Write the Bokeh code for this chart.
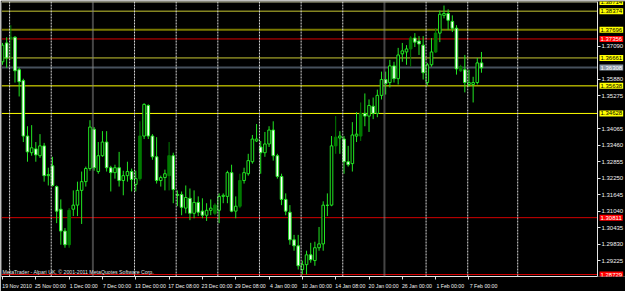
from bokeh.plotting import figure
from bokeh.models import (Range1d, FixedTicker, Span, Label, ColumnDataSource,
                          PrintfTickFormatter, BoxAnnotation)
from bokeh.embed import file_html
from bokeh.resources import INLINE

# ---- EURUSD-like H12 bars, 19 Nov 2010 .. 9 Feb 2011 ----
bar_open = [1.3652, 1.3721, 1.3735, 1.3742, 1.3623, 1.3583, 1.3380, 1.3319, 1.3333, 1.3308,
            1.3344, 1.3235, 1.3271, 1.3195, 1.3112, 1.3032, 1.2982, 1.3112, 1.3127, 1.3181,
            1.3213, 1.3261, 1.3405, 1.3250, 1.3308, 1.3358, 1.3264, 1.3246, 1.3264, 1.3217,
            1.3235, 1.3250, 1.3203, 1.3224, 1.3380, 1.3492, 1.3380, 1.3304, 1.3217, 1.3228,
            1.3235, 1.3308, 1.3166, 1.3166, 1.3116, 1.3152, 1.3097, 1.3137, 1.3105, 1.3090,
            1.3108, 1.3097, 1.3108, 1.3159, 1.3159, 1.3246, 1.3105, 1.3123, 1.3217, 1.3242,
            1.3286, 1.3362, 1.3340, 1.3319, 1.3351, 1.3402, 1.3308, 1.3232, 1.3148, 1.3101,
            1.3000, 1.2978, 1.2891, 1.2909, 1.2945, 1.2924, 1.2971, 1.2985, 1.3127, 1.3127,
            1.3344, 1.3373, 1.3369, 1.3286, 1.3279, 1.3380, 1.3380, 1.3463, 1.3453, 1.3489,
            1.3463, 1.3529, 1.3587, 1.3576, 1.3637, 1.3590, 1.3681, 1.3688, 1.3699, 1.3739,
            1.3728, 1.3713, 1.3576, 1.3641, 1.3688, 1.3757, 1.3822, 1.3829, 1.3800, 1.3775,
            1.3619, 1.3623, 1.3569, 1.3569, 1.3576, 1.3648]
bar_high = [1.3721, 1.3742, 1.3786, 1.3746, 1.3630, 1.3590, 1.3416, 1.3420, 1.3358, 1.3387,
            1.3355, 1.3264, 1.3304, 1.3199, 1.3148, 1.3043, 1.3116, 1.3181, 1.3213, 1.3250,
            1.3268, 1.3438, 1.3413, 1.3358, 1.3398, 1.3398, 1.3271, 1.3275, 1.3322, 1.3253,
            1.3286, 1.3261, 1.3253, 1.3434, 1.3500, 1.3496, 1.3387, 1.3376, 1.3235, 1.3257,
            1.3358, 1.3319, 1.3181, 1.3177, 1.3199, 1.3188, 1.3181, 1.3159, 1.3152, 1.3134,
            1.3148, 1.3134, 1.3170, 1.3170, 1.3253, 1.3275, 1.3159, 1.3242, 1.3264, 1.3315,
            1.3384, 1.3424, 1.3362, 1.3395, 1.3416, 1.3434, 1.3315, 1.3242, 1.3170, 1.3127,
            1.3018, 1.3018, 1.2924, 1.2960, 1.2989, 1.2993, 1.3047, 1.3141, 1.3170, 1.3380,
            1.3453, 1.3398, 1.3380, 1.3344, 1.3431, 1.3467, 1.3503, 1.3536, 1.3514, 1.3521,
            1.3550, 1.3616, 1.3616, 1.3659, 1.3652, 1.3703, 1.3721, 1.3713, 1.3746, 1.3757,
            1.3746, 1.3746, 1.3648, 1.3739, 1.3775, 1.3840, 1.3858, 1.3844, 1.3822, 1.3786,
            1.3641, 1.3677, 1.3623, 1.3597, 1.3666, 1.3688]
bar_low = [1.3641, 1.3630, 1.3659, 1.3576, 1.3525, 1.3358, 1.3286, 1.3308, 1.3286, 1.3300,
           1.3213, 1.3199, 1.3195, 1.3061, 1.2982, 1.2971, 1.2971, 1.3087, 1.3087, 1.3058,
           1.3195, 1.3253, 1.3253, 1.3242, 1.3304, 1.3250, 1.3177, 1.3224, 1.3195, 1.3163,
           1.3213, 1.3177, 1.3177, 1.3217, 1.3369, 1.3369, 1.3293, 1.3206, 1.3195, 1.3181,
           1.3181, 1.3134, 1.3123, 1.3090, 1.3097, 1.3072, 1.3079, 1.3087, 1.3079, 1.3069,
           1.3090, 1.3090, 1.3061, 1.3134, 1.3134, 1.3101, 1.3079, 1.3116, 1.3206, 1.3235,
           1.3279, 1.3358, 1.3242, 1.3304, 1.3340, 1.3290, 1.3224, 1.3127, 1.3090, 1.2982,
           1.2960, 1.2891, 1.2873, 1.2873, 1.2916, 1.2905, 1.2960, 1.2960, 1.3087, 1.3123,
           1.3315, 1.3315, 1.3242, 1.3268, 1.3250, 1.3358, 1.3362, 1.3416, 1.3395, 1.3442,
           1.3449, 1.3514, 1.3532, 1.3558, 1.3576, 1.3569, 1.3652, 1.3641, 1.3634, 1.3706,
           1.3677, 1.3587, 1.3565, 1.3634, 1.3684, 1.3724, 1.3811, 1.3768, 1.3761, 1.3605,
           1.3615, 1.3540, 1.3561, 1.3503, 1.3569, 1.3612]
bar_close = [1.3713, 1.3666, 1.3742, 1.3619, 1.3579, 1.3380, 1.3322, 1.3337, 1.3311, 1.3344,
             1.3235, 1.3239, 1.3199, 1.3105, 1.3032, 1.2982, 1.3108, 1.3127, 1.3181, 1.3213,
             1.3261, 1.3413, 1.3264, 1.3308, 1.3358, 1.3264, 1.3246, 1.3264, 1.3217, 1.3235,
             1.3250, 1.3221, 1.3224, 1.3380, 1.3496, 1.3380, 1.3304, 1.3217, 1.3228, 1.3242,
             1.3308, 1.3184, 1.3163, 1.3119, 1.3155, 1.3097, 1.3137, 1.3101, 1.3090, 1.3108,
             1.3116, 1.3127, 1.3159, 1.3163, 1.3246, 1.3105, 1.3123, 1.3217, 1.3246, 1.3290,
             1.3369, 1.3369, 1.3319, 1.3351, 1.3402, 1.3308, 1.3232, 1.3148, 1.3105, 1.3000,
             1.2978, 1.2905, 1.2909, 1.2945, 1.2927, 1.2971, 1.2985, 1.3127, 1.3126, 1.3344,
             1.3376, 1.3380, 1.3286, 1.3275, 1.3384, 1.3387, 1.3463, 1.3453, 1.3492, 1.3463,
             1.3529, 1.3587, 1.3572, 1.3637, 1.3590, 1.3677, 1.3692, 1.3699, 1.3739, 1.3724,
             1.3717, 1.3612, 1.3641, 1.3688, 1.3757, 1.3826, 1.3829, 1.3804, 1.3775, 1.3626,
             1.3634, 1.3576, 1.3576, 1.3576, 1.3648, 1.3630]
# 1 = candle drawn in the darker green layer
bar_shade = [0, 0, 1, 0, 0, 0, 0, 0, 0, 0, 0, 0, 0, 0, 0, 0, 1, 0, 0, 0,
             0, 0, 0, 0, 0, 0, 0, 0, 0, 0, 0, 0, 0, 1, 0, 0, 0, 0, 0, 0,
             1, 0, 0, 0, 0, 0, 0, 0, 0, 0, 0, 1, 0, 0, 0, 0, 0, 1, 0, 0,
             0, 0, 0, 0, 0, 0, 0, 0, 0, 0, 0, 0, 0, 0, 0, 0, 0, 0, 0, 0,
             1, 0, 0, 0, 0, 0, 1, 0, 0, 0, 0, 0, 0, 0, 0, 0, 0, 0, 1, 0,
             0, 0, 0, 0, 1, 0, 0, 0, 0, 0, 1, 0, 0, 0, 0, 0]

date_bars = [0, 8, 16, 24, 32, 40, 48, 56, 64, 72, 80, 88, 96, 104, 112]
date_labels = ["19 Nov 2010", "25 Nov 00:00", "1 Dec 00:00", "7 Dec 00:00", "13 Dec 00:00",
               "17 Dec 08:00", "23 Dec 00:00", "29 Dec 08:00", "4 Jan 00:00", "10 Jan 00:00",
               "14 Jan 08:00", "20 Jan 00:00", "26 Jan 00:00", "1 Feb 00:00", "7 Feb 00:00"]
week_start_bars = [2, 12, 22, 32, 42, 52, 62, 72, 82, 92, 102, 112, 124]
month_start_bars = [22, 92]

price_ticks = [1.29225, 1.29830, 1.30435, 1.31040, 1.31645, 1.32250, 1.32855, 1.33460,
               1.34065, 1.35275, 1.35880, 1.37090]

level_prices = [1.38714, 1.38374, 1.37696, 1.37356, 1.36661, 1.36308, 1.35638, 1.34628,
                1.30811, 1.28729]
level_kind = ["top", "yellow_dim", "olive", "red", "yellow_dim", "bid", "yellow", "yellow",
              "red", "red"]

# ---- layout / styles ----
BAR_PX = 4.165                      # pixels per bar
X0 = -1.0 / BAR_PX                  # left edge of chart
X_AXIS = 595.0 / BAR_PX             # price scale position
X1 = 623.0 / BAR_PX                 # right edge of window
Y0, Y1 = 1.28656, 1.38728

BRIGHT = "#22e622"
DARK = "#007a00"
line_style = {"top": ("#f2f2c0", 1), "yellow_dim": ("#c8c832", 1), "olive": ("#7a7a00", 2),
              "red": ("#d20000", 1), "bid": ("#46505c", 2), "yellow": ("#ffff00", 1)}
tag_style = {"top": ("#ffff00", "#000000"), "yellow_dim": ("#ffff00", "#000000"),
             "olive": ("#ffff00", "#000000"), "red": ("#ff0000", "#ffffff"),
             "bid": ("#8c9aa8", "#ffffff"), "yellow": ("#ffff00", "#000000")}

n = len(bar_open)
idx = list(range(n))
tops = [max(o, c) for o, c in zip(bar_open, bar_close)]
bots = [min(o, c) for o, c in zip(bar_open, bar_close)]
fills, lines = [], []
for o, c, s in zip(bar_open, bar_close, bar_shade):
    if s:
        fills.append(DARK if c >= o else "#004d00")
        lines.append(DARK)
    else:
        fills.append("#000000" if c > o else "#ffffff")
        lines.append(BRIGHT)
src = ColumnDataSource(dict(x=idx, o=bar_open, h=bar_high, l=bar_low, c=bar_close,
                            top=tops, bot=bots, fill=fills, line=lines))

p = figure(width=625, height=291, output_backend="svg", toolbar_location=None,
           x_range=Range1d(X0, X1), y_range=Range1d(Y0, Y1),
           y_axis_location="right", min_border_left=1, min_border_top=1,
           min_border_right=0, min_border_bottom=12)
p.background_fill_color = "#000000"
p.border_fill_color = "#000000"
p.outline_line_color = None
p.xgrid.visible = False
p.ygrid.visible = False

# week / month separators
for b in week_start_bars:
    thick = b in month_start_bars
    p.add_layout(Span(location=b - 0.3, dimension="height",
                      line_color="#8a8a8a" if thick else "#d8d8d8",
                      line_width=2 if thick else 1,
                      line_dash="1 1" if thick else "2 1"))

# horizontal levels, stopping at the price scale
lv_col = [line_style[k][0] for k in level_kind]
lv_w = [line_style[k][1] for k in level_kind]
p.segment(x0=[X0] * len(level_prices), x1=[X_AXIS] * len(level_prices),
          y0=level_prices, y1=level_prices, line_color=lv_col, line_width=lv_w)

# candles
p.segment(x0="x", y0="l", x1="x", y1="h", source=src, line_color="line", line_width=1)
p.vbar(x="x", top="top", bottom="bot", width=0.62, source=src,
       fill_color="fill", line_color="line", line_width=1)

# chart border
p.add_layout(BoxAnnotation(left=X0, right=X_AXIS, bottom=Y0, top=Y1, fill_alpha=0,
                           line_color="#e6e6e6", line_width=1))

# price axis
ya = p.yaxis[0]
ya.fixed_location = X_AXIS
ya.ticker = FixedTicker(ticks=price_ticks)
ya.formatter = PrintfTickFormatter(format="%.5f")
ya.axis_line_color = "#e6e6e6"
ya.major_tick_line_color = "#e6e6e6"
ya.major_tick_out = 3
ya.major_tick_in = 0
ya.minor_tick_out = 0
ya.minor_tick_in = 0
ya.major_label_standoff = 1
ya.major_label_text_font = "Liberation Sans"
ya.major_label_text_font_size = "6px"
ya.major_label_text_color = "#f0f0f0"

# time axis
xa = p.xaxis[0]
centers = [b + 3.5 for b in date_bars]
xa.ticker = FixedTicker(ticks=centers, minor_ticks=date_bars)
xa.major_label_overrides = {cx: t for cx, t in zip(centers, date_labels)}
xa.bounds = (X0, X_AXIS)
xa.axis_line_color = "#e6e6e6"
xa.major_tick_out = 0
xa.major_tick_in = 0
xa.minor_tick_out = 3
xa.minor_tick_in = 0
xa.minor_tick_line_color = "#e6e6e6"
xa.major_label_standoff = 3
xa.major_label_text_font = "Liberation Sans"
xa.major_label_text_font_size = "5.2px"
xa.major_label_text_color = "#f0f0f0"

# price tags on the scale
for pr, k in zip(level_prices, level_kind):
    bg, fg = tag_style[k]
    p.add_layout(Label(x=598, y=pr, x_units="screen", y_units="data",
                       text=("%.5f" % pr), text_font="Liberation Sans",
                       text_font_size="6px", text_color=fg, text_align="left",
                       text_baseline="middle", background_fill_color=bg, padding=1))

p.add_layout(Label(x=1, y=2, x_units="screen", y_units="screen",
                   text="MetaTrader - Alpari UK, \u00a9 2001-2011 MetaQuotes Software Corp.",
                   text_font="Liberation Sans", text_font_size="5.2px",
                   text_color="#e0e0e0", text_baseline="bottom"))

open("out.html", "w").write(file_html(p, INLINE))
